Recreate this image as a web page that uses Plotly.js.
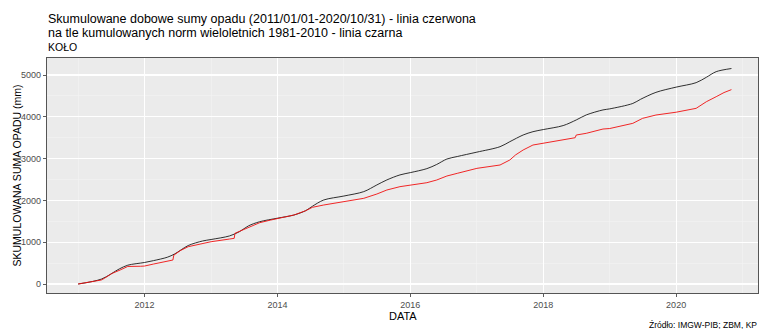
<!DOCTYPE html>
<html>
<head>
<meta charset="utf-8">
<script src="https://cdn.plot.ly/plotly-3.0.1.min.js"></script>
<style>html,body{margin:0;padding:0;background:#fff;}#chart{width:760px;height:329px;}</style>
</head>
<body>
<div id="chart"></div>
<script>
// Cumulative multi-year norm 1981-2010 (black line)
const normDates = ["2011-01-01","2011-05-10","2011-08-15","2011-10-01","2012-01-01","2012-02-20","2012-05-05","2012-06-15","2012-08-28","2012-11-15",
"2013-01-01","2013-04-12","2013-06-05","2013-07-25","2013-09-25","2014-01-01","2014-04-01","2014-06-05","2014-07-12","2014-09-12",
"2015-01-01","2015-04-20","2015-07-01","2015-08-25","2015-11-05","2016-01-01","2016-04-01","2016-05-25","2016-07-20","2016-09-15",
"2017-01-01","2017-05-08","2017-07-01","2017-09-12","2017-11-05","2018-01-01","2018-04-20","2018-07-01","2018-08-25","2018-11-25",
"2019-01-01","2019-05-08","2019-06-20","2019-09-12","2020-01-01","2020-04-20","2020-06-15","2020-08-08","2020-10-31"];
const normValues = [0,120,360,450,515,560,640,720,920,1029,
1065,1150,1250,1390,1490,1575,1650,1755,1860,2010,
2105,2210,2370,2490,2610,2665,2760,2860,2990,3050,
3155,3285,3405,3565,3644,3695,3790,3925,4045,4165,
4190,4320,4420,4585,4710,4817,4945,5080,5155];

// Cumulative daily precipitation sums 2011-2020 (red line)
const sumDates = ["2011-01-01","2011-03-10","2011-05-08","2011-05-25","2011-07-05","2011-08-20","2011-10-01","2011-12-10","2012-01-01","2012-02-20",
"2012-05-05","2012-06-05","2012-06-10","2012-07-15","2012-08-28","2012-11-15","2013-01-01","2013-04-12","2013-05-08","2013-05-12",
"2013-06-25","2013-08-08","2013-09-25","2013-11-25","2014-01-01","2014-04-01","2014-06-05","2014-07-12","2014-09-12","2015-01-01",
"2015-04-20","2015-07-01","2015-08-25","2015-11-05","2016-01-01","2016-04-01","2016-05-25","2016-07-20","2016-09-15","2017-01-01",
"2017-05-08","2017-07-01","2017-08-02","2017-09-12","2017-11-05","2018-01-01","2018-04-20","2018-06-25","2018-07-01","2018-08-25",
"2018-11-25","2019-01-01","2019-05-08","2019-07-01","2019-09-12","2020-01-01","2020-04-20","2020-06-15","2020-08-08","2020-09-20","2020-10-31"];
const sumValues = [0,50,95,135,250,335,420,425,430,478,
534,574,690,797,893,973,1012,1076,1093,1213,
1292,1388,1467,1531,1571,1650,1754,1835,1890,1969,
2050,2153,2249,2329,2368,2424,2488,2584,2648,2767,
2847,2967,3090,3206,3325,3365,3445,3500,3565,3605,
3708,3720,3844,3964,4043,4110,4203,4361,4481,4580,4650];

const xTicks = ["2012-01-01","2014-01-01","2016-01-01","2018-01-01","2020-01-01"];
const xTickText = ["2012","2014","2016","2018","2020"];
const yTicks = [0,1000,2000,3000,4000,5000];

const titleLine1 = "Skumulowane dobowe sumy opadu (2011/01/01-2020/10/31) - linia czerwona";
const titleLine2 = "na tle kumulowanych norm wieloletnich 1981-2010 - linia czarna";
const subtitle = "KOŁO";
const yTitle = "SKUMULOWANA SUMA OPADU (mm)";
const xTitle = "DATA";
const source = "Źródło: IMGW-PIB; ZBM, KP";

const traces = [
  {x: normDates, y: normValues, type: "scatter", mode: "lines", line: {color: "#1a1a1a", width: 0.9, shape: "spline", smoothing: 0.9}, hoverinfo: "skip"},
  {x: sumDates, y: sumValues, type: "scatter", mode: "lines", line: {color: "#f01010", width: 0.9}, hoverinfo: "skip"}
];

const F = "Liberation Sans, Arial, sans-serif";
const layout = {
  width: 760, height: 329,
  margin: {l: 47, r: 2, t: 58, b: 36},
  paper_bgcolor: "#ffffff",
  plot_bgcolor: "#EBEBEB",
  showlegend: false,
  font: {family: F},
  xaxis: {
    type: "date",
    range: ["2010-07-14", "2021-03-26"],
    tickmode: "array", tickvals: xTicks, ticktext: xTickText,
    gridcolor: "#ffffff", gridwidth: 1.1,
    minor: {dtick: "M12", tick0: "2011-01-01", gridcolor: "#F4F4F4", gridwidth: 0.6, showgrid: true},
    ticks: "outside", ticklen: 3, tickcolor: "#333333", tickwidth: 0.8,
    tickfont: {size: 9, color: "#4D4D4D", family: F},
    showline: true, linecolor: "#555555", linewidth: 1.2, mirror: true,
    zeroline: false, fixedrange: true
  },
  yaxis: {
    range: [-215, 5407],
    tickmode: "array", tickvals: yTicks,
    gridcolor: "#ffffff", gridwidth: 1.1,
    minor: {dtick: 500, tick0: 500, gridcolor: "#F4F4F4", gridwidth: 0.6, showgrid: true},
    ticks: "outside", ticklen: 3, tickcolor: "#333333", tickwidth: 0.8,
    tickfont: {size: 9, color: "#4D4D4D", family: F},
    showline: true, linecolor: "#555555", linewidth: 1.2, mirror: true,
    zeroline: false, fixedrange: true
  },
  annotations: [
    {text: titleLine1, xref: "paper", yref: "paper", x: -0.002, y: (293-18.5)/235, xanchor: "left", yanchor: "middle", showarrow: false, font: {size: 12.5, color: "#000", family: F}},
    {text: titleLine2, xref: "paper", yref: "paper", x: -0.002, y: (293-33)/235, xanchor: "left", yanchor: "middle", showarrow: false, font: {size: 12.5, color: "#000", family: F}},
    {text: subtitle, xref: "paper", yref: "paper", x: -0.002, y: (293-46.5)/235, xanchor: "left", yanchor: "middle", showarrow: false, font: {size: 10.5, color: "#000", family: F}},
    {text: yTitle, xref: "paper", yref: "paper", x: (16-47)/711, y: 0.5, xanchor: "center", yanchor: "middle", textangle: -90, showarrow: false, font: {size: 10.5, color: "#000", family: F}},
    {text: xTitle, xref: "paper", yref: "paper", x: 0.5, y: (293-315.5)/235, xanchor: "center", yanchor: "middle", showarrow: false, font: {size: 11, color: "#000", family: F}},
    {text: source, xref: "paper", yref: "paper", x: (759-47)/711, y: (293-325)/235, xanchor: "right", yanchor: "middle", showarrow: false, font: {size: 8.5, color: "#000", family: F}}
  ]
};

Plotly.newPlot("chart", traces, layout, {staticPlot: true, displayModeBar: false});
</script>
</body>
</html>
